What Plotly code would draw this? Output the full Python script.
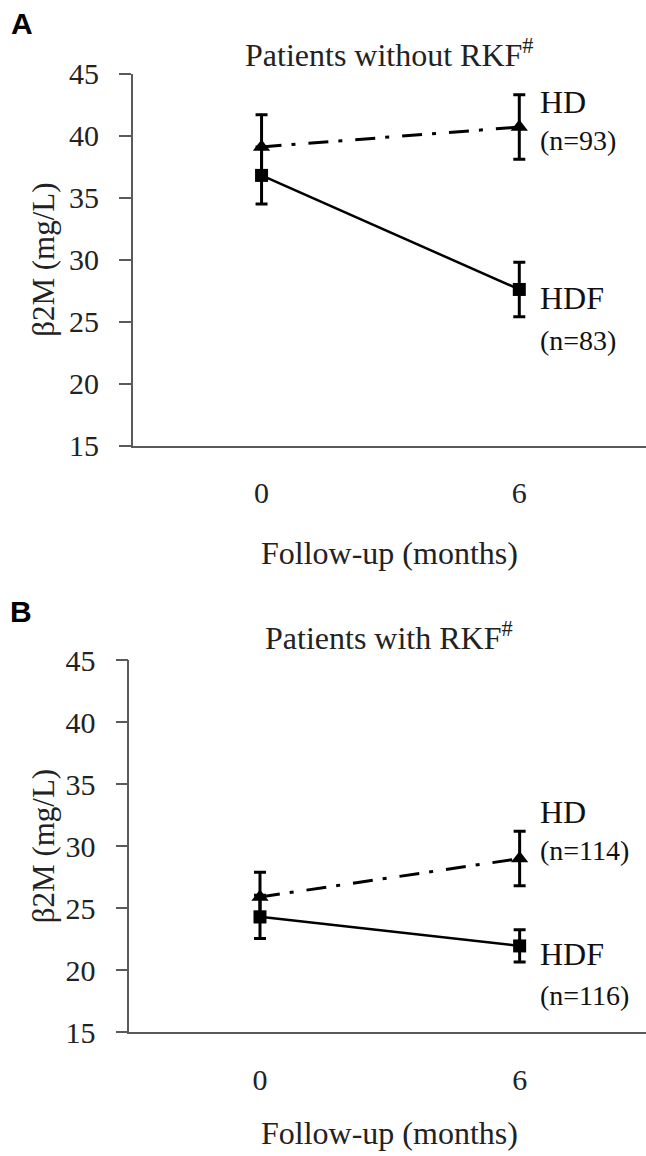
import plotly.graph_objects as go

W, H = 646, 1156

months = [0, 6]
x_ticktext = ["0", "6"]
y_ticks = [15, 20, 25, 30, 35, 40, 45]

# Panel A: patients without RKF
a_hd_mean = [39.1, 40.7]
a_hd_err = [2.6, 2.6]
a_hdf_mean = [36.8, 27.6]
a_hdf_err = [2.3, 2.2]

# Panel B: patients with RKF
b_hd_mean = [25.9, 29.0]
b_hd_err = [2.0, 2.2]
b_hdf_mean = [24.3, 21.95]
b_hdf_err = [1.75, 1.3]

panel_titles = ["Patients without RKF<sup>#</sup>", "Patients with RKF<sup>#</sup>"]
panel_letters = ["A", "B"]
hd_n = ["(n=93)", "(n=114)"]
hdf_n = ["(n=83)", "(n=116)"]

SERIF = "Liberation Serif"
AXC = "#5a5a5a"

# vertical calibration of the rendered page
VOFF, VSC = 17.3, 0.97


def px(x):
    return x / W


def py(y):
    return 1 - (y - VOFF) / (H * VSC)


fig = go.Figure()

panels = [
    dict(xa="x", ya="y", hd=a_hd_mean, hde=a_hd_err, hdf=a_hdf_mean, hdfe=a_hdf_err),
    dict(xa="x2", ya="y2", hd=b_hd_mean, hde=b_hd_err, hdf=b_hdf_mean, hdfe=b_hdf_err),
]

for p in panels:
    fig.add_trace(go.Scatter(
        x=months, y=p["hdf"], xaxis=p["xa"], yaxis=p["ya"], mode="lines+markers",
        line=dict(color="black", width=2.5),
        marker=dict(symbol="square", size=13, color="black"),
        error_y=dict(type="data", array=p["hdfe"], visible=True, color="black", thickness=3, width=6),
        showlegend=False, cliponaxis=False,
    ))
    fig.add_trace(go.Scatter(
        x=months, y=p["hd"], xaxis=p["xa"], yaxis=p["ya"], mode="lines+markers",
        line=dict(color="black", width=3, dash="20px,10px,4px,13px"),
        marker=dict(symbol="triangle-up", size=15, color="black"),
        error_y=dict(type="data", array=p["hde"], visible=True, color="black", thickness=3, width=6),
        showlegend=False, cliponaxis=False,
    ))

common_y = dict(
    range=[15, 45], tickvals=y_ticks, showline=True, linecolor=AXC, linewidth=1.5,
    ticks="outside", ticklen=12, tickcolor=AXC, tickwidth=1.5, showgrid=False, zeroline=False,
    tickfont=dict(family=SERIF, size=30, color="#222"), ticklabelstandoff=14,
)
common_x = dict(
    tickvals=months, ticktext=x_ticktext, showline=True, linecolor=AXC, linewidth=1.5,
    ticks="", showgrid=False, zeroline=False,
    tickfont=dict(family=SERIF, size=30, color="#222"), ticklabelstandoff=20,
)

fig.update_layout(
    width=W, height=H, margin=dict(l=0, r=0, t=0, b=0),
    paper_bgcolor="white", plot_bgcolor="white",
    xaxis=dict(domain=[px(132.7), 1.0], range=[-3.0, 8.95], anchor="y", **common_x),
    yaxis=dict(domain=[py(445.7), py(74)], anchor="x", **common_y),
    xaxis2=dict(domain=[px(129.3), 1.0], range=[-3.02, 8.92], anchor="y2", **common_x),
    yaxis2=dict(domain=[py(1031.7), py(660.3)], anchor="x2", **common_y),
)

ann = []
layout_px = [
    dict(letter=(22, 24), title=53, ylab=(44, 260), xlab=553, hd=102.5, hdn=141, hdf=298.5, hdfn=341, cx=389.5),
    dict(letter=(21, 611), title=636, ylab=(43, 846), xlab=1132.5, hd=812, hdn=850, hdf=954, hdfn=995, cx=389),
]
for i, L in enumerate(layout_px):
    ann.append(dict(text=f"<b>{panel_letters[i]}</b>", x=px(L["letter"][0]), y=py(L["letter"][1]),
                    xref="paper", yref="paper", showarrow=False, xanchor="center", yanchor="middle",
                    font=dict(family="Liberation Sans", size=30, color="black")))
    ann.append(dict(text=panel_titles[i], x=px(L["cx"]), y=py(L["title"]), xref="paper", yref="paper",
                    showarrow=False, xanchor="center", yanchor="middle",
                    font=dict(family=SERIF, size=32, color="#222")))
    ann.append(dict(text="β2M (mg/L)", x=px(L["ylab"][0]), y=py(L["ylab"][1]), xref="paper", yref="paper",
                    showarrow=False, xanchor="center", yanchor="middle", textangle=-90,
                    font=dict(family=SERIF, size=31, color="#222")))
    ann.append(dict(text="Follow-up (months)", x=px(L["cx"]), y=py(L["xlab"]), xref="paper", yref="paper",
                    showarrow=False, xanchor="center", yanchor="middle",
                    font=dict(family=SERIF, size=32, color="#222")))
    for key, txt, size in [("hd", "HD", 32), ("hdn", hd_n[i], 28), ("hdf", "HDF", 32), ("hdfn", hdf_n[i], 28)]:
        ann.append(dict(text=txt, x=px(538), y=py(L[key]), xref="paper", yref="paper",
                        showarrow=False, xanchor="left", yanchor="middle",
                        font=dict(family=SERIF, size=size, color="#111")))

fig.update_layout(annotations=ann)
fig.write_html("out.html")
